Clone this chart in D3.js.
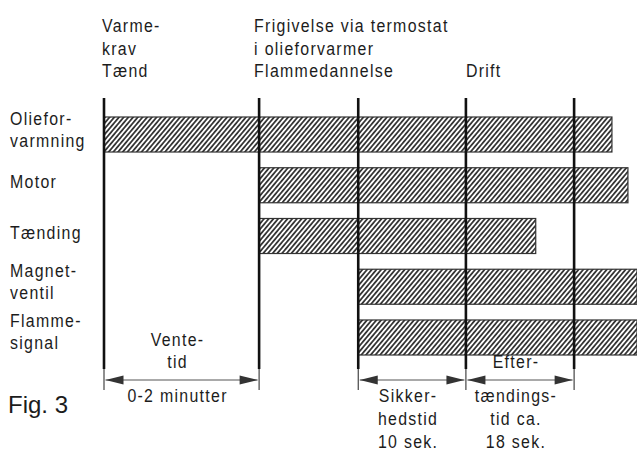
<!DOCTYPE html>
<html>
<head>
<meta charset="utf-8">
<script src="https://cdn.jsdelivr.net/npm/d3@7"></script>
<style>
  html, body { margin: 0; padding: 0; background: #fff; }
  svg text { font-family: 'Liberation Sans', Arial, sans-serif; fill: #1c1c1c; }
</style>
</head>
<body>
<div id="chart"></div>
<script>
// Timing diagram, schematic time axis (0..10 units across the plot)

const rowLabels = [["Oliefor-", "varmning"], ["Motor"], ["Tænding"], ["Magnet-", "ventil"], ["Flamme-", "signal"]];
const barStart = [0, 2.91, 2.91, 4.77, 4.77];
const barEnd = [9.53, 9.83, 8.10, 10, 10];

const eventTimes = [0, 2.91, 4.77, 6.79, 8.82];
const eventLabels = [["Varme-", "krav", "Tænd"], ["Frigivelse via termostat", "i olieforvarmer", "Flammedannelse"], [], ["Drift"], []];

const spanFrom = [0, 4.77, 6.79];
const spanTo = [2.91, 6.79, 8.82];
const spanAbove = [["Vente-", "tid"], [], ["Efter-"]];
const spanBelow = [["0-2 minutter"], ["Sikker-", "hedstid", "10 sek."], ["tændings-", "tid ca.", "18 sek."]];

const figLabel = "Fig. 3";

(function () {
    const W = 637, H = 453;
    const svg = d3.select('#chart').append('svg').attr('width', W).attr('height', H);

    const x = d3.scaleLinear().domain([0, 10]).range([104, 637]);
    const y = d3.scaleBand().domain(d3.range(rowLabels.length)).range([117, 355]).paddingInner(0.31).paddingOuter(0);

    // condensed-looking text: squeeze horizontally, open up the tracking
    function label(g, px, py, s, anchor) {
        g.append('g').attr('transform', `translate(${px},${py}) scale(0.86,1)`)
            .append('text').attr('font-size', 18.5).attr('letter-spacing', 1.5)
            .attr('text-anchor', anchor || 'start').text(s);
    }

    // Hatch pattern
    const pat = svg.append('defs').append('pattern')
        .attr('id', 'hatch').attr('patternUnits', 'userSpaceOnUse')
        .attr('width', 3.6).attr('height', 8)
        .attr('patternTransform', 'rotate(40)');
    pat.append('rect').attr('width', 3.6).attr('height', 8).attr('fill', '#fff');
    pat.append('line').attr('x1', 0.9).attr('x2', 0.9).attr('y1', 0).attr('y2', 8)
        .attr('stroke', '#2a2a2a').attr('stroke-width', 1.7);

    // Bars
    svg.append('g').selectAll('rect').data(rowLabels).enter().append('rect')
        .attr('x', (d, i) => x(barStart[i]))
        .attr('y', (d, i) => y(i))
        .attr('width', (d, i) => x(barEnd[i]) - x(barStart[i]))
        .attr('height', y.bandwidth())
        .attr('fill', 'url(#hatch)')
        .attr('stroke', '#333').attr('stroke-width', 1.2);

    // Row labels
    const rl = svg.append('g');
    rowLabels.forEach((lines, i) => {
        const c = y(i) + y.bandwidth() / 2;
        lines.forEach((s, j) => {
            const base = lines.length === 1 ? c + 3 : c - 10 + j * 22;
            label(rl, 10, base, s);
        });
    });

    // Event lines (thick), with thin tails down to the span arrows
    const ev = svg.append('g');
    ev.selectAll('line.thick').data(eventTimes).enter().append('line')
        .attr('x1', d => x(d)).attr('x2', d => x(d))
        .attr('y1', 98).attr('y2', 369)
        .attr('stroke', '#111').attr('stroke-width', 2.6);
    ev.selectAll('line.tail').data(eventTimes).enter().append('line')
        .attr('x1', d => x(d)).attr('x2', d => x(d))
        .attr('y1', 369).attr('y2', 390)
        .attr('stroke', '#333').attr('stroke-width', 1.1);

    // Event headers, bottom-aligned
    const hl = svg.append('g');
    eventLabels.forEach((lines, i) => {
        const x0 = x(eventTimes[i]) - (i === 0 ? 2 : (i === 1 ? 5 : 0));
        lines.forEach((s, j) => {
            label(hl, x0, 77 - (lines.length - 1 - j) * 22.5, s);
        });
    });

    // Span arrows
    const arrowY = 380;
    const sp = svg.append('g');
    spanFrom.forEach((a, i) => {
        const xa = x(a) + 1.5, xb = x(spanTo[i]) - 1.5;
        sp.append('line').attr('x1', xa).attr('x2', xb).attr('y1', arrowY).attr('y2', arrowY)
            .attr('stroke', '#555').attr('stroke-width', 1);
        sp.append('path').attr('d', `M${xa},${arrowY} L${xa + 18},${arrowY - 4.5} L${xa + 18},${arrowY + 4.5} Z`).attr('fill', '#333');
        sp.append('path').attr('d', `M${xb},${arrowY} L${xb - 18},${arrowY - 4.5} L${xb - 18},${arrowY + 4.5} Z`).attr('fill', '#333');

        const cx = (x(a) + x(spanTo[i])) / 2 - 4;
        const above = spanAbove[i];
        above.forEach((s, j) => {
            label(sp, cx, arrowY - 12 - (above.length - 1 - j) * 22, s, 'middle');
        });
        spanBelow[i].forEach((s, j) => {
            label(sp, cx, arrowY + 22 + j * 23, s, 'middle');
        });
    });

    // Figure label
    svg.append('text').attr('x', 8).attr('y', 413)
        .attr('font-size', 24).attr('fill', '#222').text(figLabel);
})();
</script>
</body>
</html>
